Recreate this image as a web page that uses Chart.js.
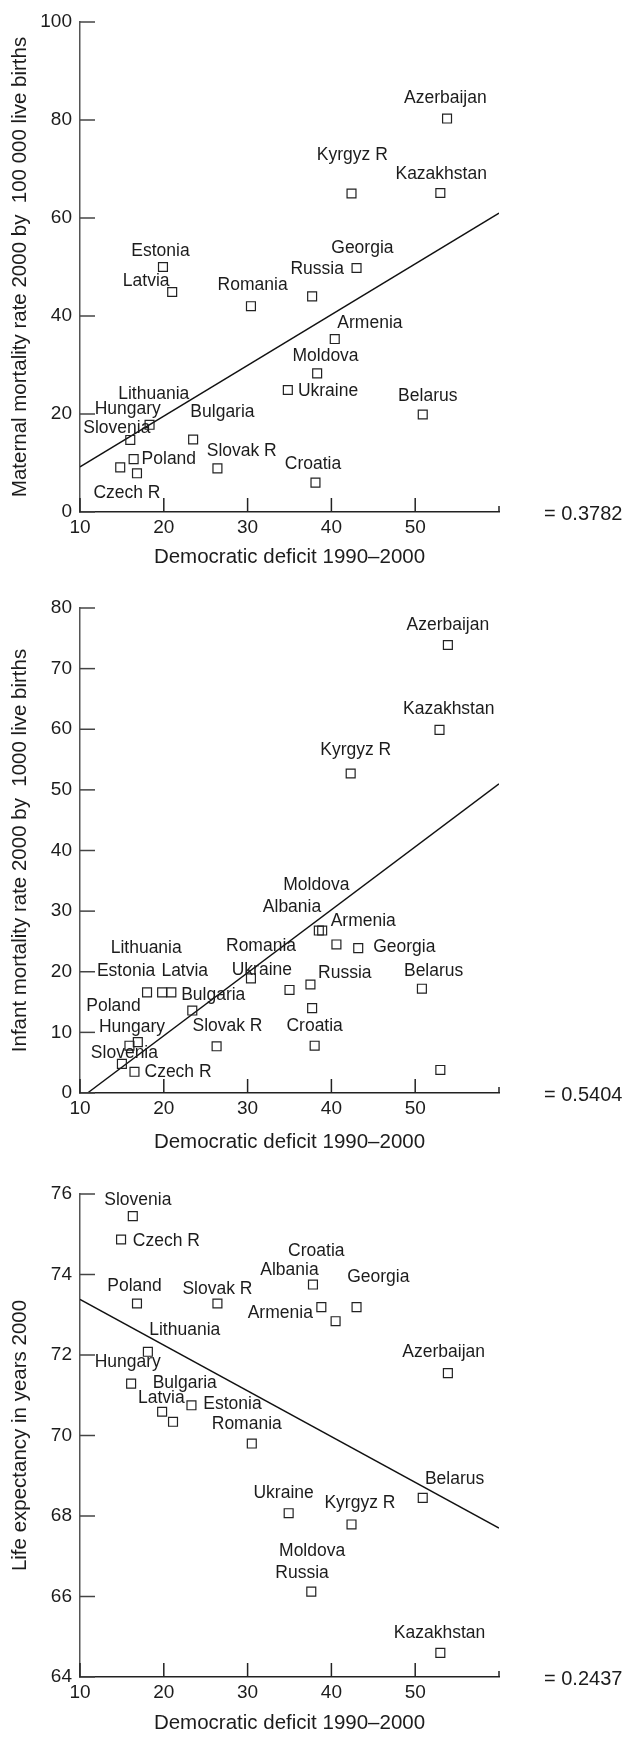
<!DOCTYPE html>
<html><head><meta charset="utf-8">
<script src="https://cdn.jsdelivr.net/npm/chart.js@4/dist/chart.umd.min.js"></script>
<style>
html,body{margin:0;padding:0;background:#fff;width:633px;height:1737px;overflow:hidden}
.box{position:absolute;left:0;width:633px}
</style></head><body>
<div class="box" style="top:0;height:580px"><canvas id="c1"></canvas></div>
<div class="box" style="top:586px;height:580px"><canvas id="c2"></canvas></div>
<div class="box" style="top:1172px;height:565px"><canvas id="c3"></canvas></div>
<script>
// ---------- shared axis data ----------
const xTicks = [10, 20, 30, 40, 50, 60];
const xTickLabels = ['10', '20', '30', '40', '50', ''];
const xTitle = 'Democratic deficit 1990\u20132000';
const fitX = [10, 60];

// ---------- chart 1: maternal mortality ----------
const deficit1 = [53.8, 42.4, 53.0, 43.0, 19.9, 21.0, 37.7, 30.4, 40.4, 38.3, 34.8, 50.9, 18.3, 16.0, 16.4, 23.5, 16.8, 26.4, 38.1, 14.8];
const maternal = [80.3, 65.0, 65.1, 49.8, 50.0, 44.9, 44.0, 42.0, 35.3, 28.3, 24.9, 19.9, 17.8, 14.7, 10.8, 14.8, 7.9, 8.9, 6.0, 9.1];
const yTicks1 = [0, 20, 40, 60, 80, 100];
const fit1Y = [9.2, 61.0];
const names1 = ['Azerbaijan', 'Kyrgyz R', 'Kazakhstan', 'Georgia', 'Estonia', 'Latvia', 'Russia', 'Romania', 'Armenia', 'Moldova', 'Ukraine', 'Belarus', 'Lithuania', 'Hungary', 'Slovenia', 'Bulgaria', 'Poland', 'Slovak R', 'Croatia', 'Czech R'];
const labelX1 = [53.6, 42.5, 53.1, 43.7, 19.6, 17.9, 38.3, 30.6, 44.6, 39.3, 39.6, 51.5, 18.8, 15.7, 14.4, 27.0, 20.6, 29.3, 37.8, 15.6];
const labelY1 = [84.5, 72.9, 69.0, 53.9, 53.2, 47.1, 49.5, 46.2, 38.6, 31.9, 24.7, 23.7, 24.0, 21.0, 17.2, 20.3, 10.8, 12.5, 9.8, 3.9];
const yTitle1 = 'Maternal mortality rate 2000 by  100 000 live births';
const r1 = '= 0.3782';

// ---------- chart 2: infant mortality ----------
const deficit2 = [53.9, 52.9, 42.3, 38.5, 38.9, 40.6, 43.2, 30.4, 35.0, 37.5, 37.7, 50.8, 18.0, 19.8, 20.9, 23.4, 15.9, 16.9, 15.0, 16.5, 26.3, 38.0, 53.0];
const infant = [73.9, 59.9, 52.7, 26.8, 26.8, 24.5, 23.9, 18.9, 17.0, 17.9, 14.0, 17.2, 16.6, 16.6, 16.6, 13.6, 7.8, 8.4, 4.8, 3.5, 7.7, 7.8, 3.8];
const yTicks2 = [0, 10, 20, 30, 40, 50, 60, 70, 80];
const fit2X = [10.9, 60];
const fit2Y = [0, 51.0];
const names2 = ['Azerbaijan', 'Kazakhstan', 'Kyrgyz R', 'Moldova', 'Albania', 'Armenia', 'Georgia', 'Lithuania', 'Romania', 'Estonia', 'Latvia', 'Ukraine', 'Russia', 'Belarus', 'Bulgaria', 'Poland', 'Hungary', 'Slovak R', 'Croatia', 'Slovenia', 'Czech R'];
const labelX2 = [53.9, 54.0, 42.9, 38.2, 35.3, 43.8, 48.7, 17.9, 31.6, 15.5, 22.5, 31.7, 41.6, 52.2, 25.9, 14.0, 16.2, 27.6, 38.0, 15.3, 21.7];
const labelY2 = [77.2, 63.3, 56.5, 34.2, 30.6, 28.3, 24.0, 23.9, 24.2, 20.1, 20.1, 20.2, 19.8, 20.1, 16.1, 14.3, 10.9, 11.0, 11.0, 6.6, 3.4];
const yTitle2 = 'Infant mortality rate 2000 by  1000 live births';
const r2 = '= 0.5404';

// ---------- chart 3: life expectancy ----------
const deficit3 = [16.3, 14.9, 37.8, 16.8, 26.4, 38.8, 40.5, 43.0, 18.1, 53.9, 16.1, 23.3, 19.8, 21.1, 30.5, 50.9, 34.9, 42.4, 37.6, 53.0];
const lifeExp = [75.45, 74.87, 73.75, 73.28, 73.28, 73.19, 72.84, 73.19, 72.08, 71.55, 71.29, 70.75, 70.59, 70.34, 69.80, 68.45, 68.07, 67.79, 66.12, 64.60];
const yTicks3 = [64, 66, 68, 70, 72, 74, 76];
const fit3Y = [73.38, 67.70];
const names3 = ['Slovenia', 'Czech R', 'Croatia', 'Albania', 'Georgia', 'Poland', 'Slovak R', 'Armenia', 'Lithuania', 'Azerbaijan', 'Hungary', 'Bulgaria', 'Latvia', 'Estonia', 'Romania', 'Belarus', 'Ukraine', 'Kyrgyz R', 'Moldova', 'Russia', 'Kazakhstan'];
const labelX3 = [16.9, 20.3, 38.2, 35.0, 45.6, 16.5, 26.4, 33.9, 22.5, 53.4, 15.7, 22.5, 19.7, 28.2, 29.9, 54.7, 34.3, 43.4, 37.7, 36.5, 52.9];
const labelY3 = [75.84, 74.84, 74.58, 74.10, 73.93, 73.70, 73.64, 73.05, 72.61, 72.07, 71.82, 71.30, 70.92, 70.77, 70.28, 68.91, 68.56, 68.31, 67.12, 66.59, 65.08];
const yTitle3 = 'Life expectancy in years 2000';
const r3 = '= 0.2437';

// ---------- drawing ----------
const FONT = '"Liberation Sans", Arial, sans-serif';
const INK = '#1c1c1c';

const overlay = {
  id: 'overlay',
  afterDatasetsDraw(chart, args, o) {
    const { ctx, chartArea: ca } = chart;
    const xs = chart.scales.x, ys = chart.scales.y;
    ctx.save();
    ctx.lineWidth = 1.5;
    ctx.strokeStyle = '#444';
    ys.ticks.forEach(t => {
      const py = ys.getPixelForValue(t.value);
      ctx.beginPath(); ctx.moveTo(ca.left, py); ctx.lineTo(ca.left + 15, py); ctx.stroke();
    });
    ctx.strokeStyle = '#222';
    xs.ticks.forEach((t, i) => {
      const px = xs.getPixelForValue(t.value);
      const len = i === xs.ticks.length - 1 ? 6 : 14;
      ctx.beginPath(); ctx.moveTo(px, ca.bottom); ctx.lineTo(px, ca.bottom - len); ctx.stroke();
    });
    ctx.fillStyle = INK;
    ctx.font = '17.5px ' + FONT;
    ctx.textAlign = 'center';
    ctx.textBaseline = 'middle';
    o.names.forEach((n, i) => {
      ctx.fillText(n, xs.getPixelForValue(o.lx[i]), ys.getPixelForValue(o.ly[i]));
    });
    ctx.font = '20px ' + FONT;
    ctx.textAlign = 'left';
    ctx.fillText(o.r, 544, ca.bottom + 2);
    ctx.restore();
  }
};

function makeChart(id, cfg) {
  new Chart(document.getElementById(id), {
    type: 'scatter',
    data: {
      datasets: [
        {
          data: cfg.px.map((v, i) => ({ x: v, y: cfg.py[i] })),
          pointStyle: 'rect', pointRadius: 6.3, pointHoverRadius: 6.3,
          borderColor: '#222', backgroundColor: 'rgba(0,0,0,0)', pointBorderWidth: 1.2
        },
        {
          data: cfg.fx.map((v, i) => ({ x: v, y: cfg.fy[i] })),
          showLine: true, borderColor: '#111', borderWidth: 1.4, pointRadius: 0, pointHoverRadius: 0
        }
      ]
    },
    options: {
      responsive: true, maintainAspectRatio: false, animation: false,
      events: [],
      layout: { padding: { top: 22, right: 134, left: 0, bottom: 0 } },
      plugins: {
        legend: { display: false }, tooltip: { enabled: false },
        overlay: { names: cfg.names, lx: cfg.lx, ly: cfg.ly, r: cfg.r }
      },
      scales: {
        x: {
          type: 'linear', min: 10, max: 60,
          afterBuildTicks: s => { s.ticks = xTicks.map(v => ({ value: v })); },
          afterFit: s => { s.height = cfg.xh; },
          ticks: { color: INK, font: { family: FONT, size: 19 }, padding: 4,
                   callback: (v) => xTickLabels[xTicks.indexOf(v)] },
          grid: { display: false, drawTicks: false, tickLength: 0 },
          border: { display: true, color: '#222', width: 1.5 },
          title: { display: true, text: xTitle, color: INK, font: { family: FONT, size: 20.5 },
                   padding: { top: 0, bottom: cfg.tpb } }
        },
        y: {
          type: 'linear', min: cfg.yt[0], max: cfg.yt[cfg.yt.length - 1],
          afterBuildTicks: s => { s.ticks = cfg.yt.map(v => ({ value: v })); },
          afterFit: s => { s.width = 80; },
          ticks: { color: INK, font: { family: FONT, size: 19 }, padding: 8 },
          grid: { display: false, drawTicks: false, tickLength: 0 },
          border: { display: true, color: '#555', width: 1.5 },
          title: { display: true, text: cfg.yTitle, color: INK, font: { family: FONT, size: 20.5 },
                   padding: { top: 8, bottom: 0 } }
        }
      }
    },
    plugins: [overlay]
  });
}

makeChart('c1', { px: deficit1, py: maternal, fx: fitX, fy: fit1Y, yt: yTicks1, yTitle: yTitle1,
  names: names1, lx: labelX1, ly: labelY1, r: r1, xh: 68, tpb: 10.7 });
makeChart('c2', { px: deficit2, py: infant, fx: fit2X, fy: fit2Y, yt: yTicks2, yTitle: yTitle2,
  names: names2, lx: labelX2, ly: labelY2, r: r2, xh: 73, tpb: 11.7 });
makeChart('c3', { px: deficit3, py: lifeExp, fx: fitX, fy: fit3Y, yt: yTicks3, yTitle: yTitle3,
  names: names3, lx: labelX3, ly: labelY3, r: r3, xh: 60, tpb: 1.7 });
</script>
</body></html>
